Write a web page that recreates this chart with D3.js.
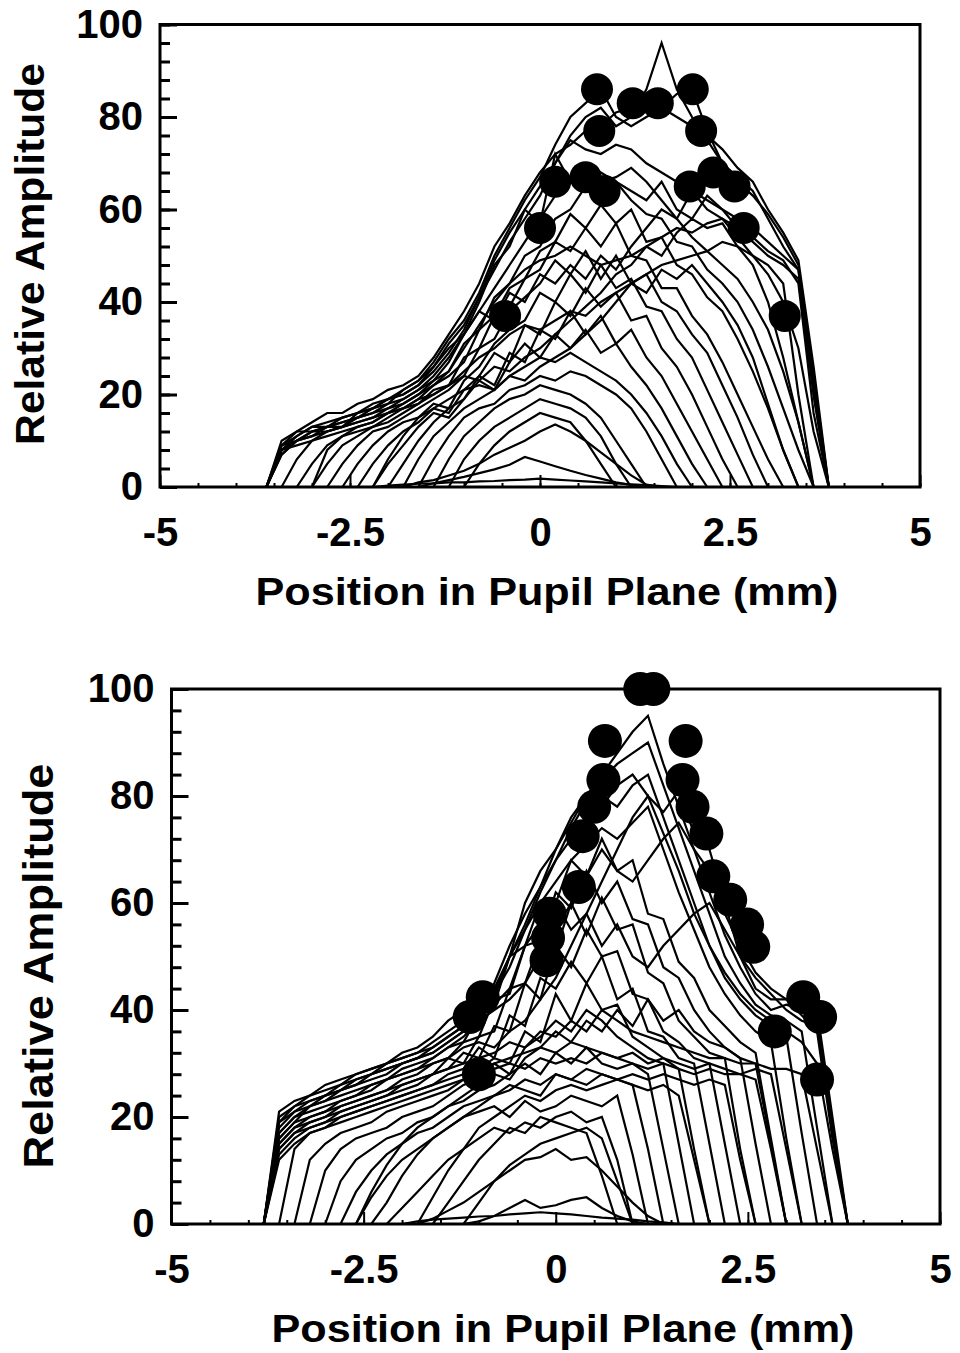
<!DOCTYPE html>
<html>
<head>
<meta charset="utf-8">
<script src="https://cdn.jsdelivr.net/npm/d3@7"></script>
<style>
  body { margin: 0; background: #fff; }
  svg { display: block; }
</style>
</head>
<body>
<div id="chart"></div>
<script>
// x positions (mm) of the sampled profiles
const topX = [-3.6,-3.4,-3.2,-3.0,-2.8,-2.6,-2.4,-2.2,-2.0,-1.8,-1.6,-1.4,-1.2,-1.0,-0.8,-0.6,-0.4,-0.2,0,0.2,0.4,0.6,0.8,1.0,1.2,1.4,1.6,1.8,2.0,2.2,2.4,2.6,2.8,3.0,3.2,3.4,3.6,3.8];
const bottomX = [-3.8,-3.6,-3.4,-3.2,-3.0,-2.8,-2.6,-2.4,-2.2,-2.0,-1.8,-1.6,-1.4,-1.2,-1.0,-0.8,-0.6,-0.4,-0.2,0,0.2,0.4,0.6,0.8,1.0,1.2,1.4,1.6,1.8,2.0,2.2,2.4,2.6,2.8,3.0,3.2,3.4,3.6,3.8];

// top panel profiles (relative amplitude at topX)
const topLines = [
  [0,0,0,0,0,0,0,0,0.3,0.5, 0.7,0.8,1,1,1.2,1.3,1.5,1.6,1.8,1.6, 1.4,1.2,1,0.8,0.6,0.4,0.2,0,0,0, 0,0,0,0,0,0,0,0],
  [0,0,0,0,0,0,0,0,0,0, 0,0.8,1.5,2.2,3,3.8,4.8,6.5,5.5,4.5, 3.5,2.6,1.8,1,0.4,0,0,0,0,0, 0,0,0,0,0,0,0,0],
  [0,0,0,0,0,0,0,0,0,0, 1,1.5,2.5,3.5,5,7,8.5,10,12,13.5, 12,10,7.5,5,2.5,0.5,0,0,0,0, 0,0,0,0,0,0,0,0],
  [0,0,0,0,0,0,0,0,0,0, 0,0,0,0,5,9,12,14,16,15, 14,10,5,0,0,0,0,0,0,0, 0,0,0,0,0,0,0,0],
  [0,0,0,0,0,0,0,0,0,0, 0,0,0,6,10,13,15,17,19,18, 17,15,11,5,0,0,0,0,0,0, 0,0,0,0,0,0,0,0],
  [0,0,0,0,0,0,0,0,0,0, 0,0,6,11,14,17,19,20,22,21, 20,18,15,10,5,0,0,0,0,0, 0,0,0,0,0,0,0,0],
  [0,0,0,0,0,0,0,0,0,0, 0,6,11,15,17,18,21,22,24,23, 25,24,22,20,17,12,6,0,0,0, 0,0,0,0,0,0,0,0],
  [0,0,0,0,0,0,0,0,0,0, 6,11,14,17,19,21,24,26,28,27, 29,27,25,23,20,16,11,5,0,0, 0,0,0,0,0,0,0,0],
  [0,0,0,0,0,0,0,0,0,5, 10,14,17,19,23,21,27,31,28,33, 30,34,29,31,26,22,17,11,5,0, 0,0,0,0,0,0,0,0],
  [0,0,0,0,0,0,0,0,5,9, 13,16,15,19,24,22,29,27,34,32, 38,33,37,31,34,28,24,18,12,6, 0,0,0,0,0,0,0,0],
  [0,0,0,0,0,0,0,5,9,12, 14,17,16,21,24,29,27,35,33,40, 37,43,39,42,36,37,30,26,20,13, 6,0,0,0,0,0,0,0],
  [0,0,0,0,0,0,5,9,12,14, 15,18,17,23,26,31,34,36,42,40, 46,42,48,43,45,39,38,32,28,21, 14,7,0,0,0,0,0,0],
  [0,0,0,0,0,5,9,12,13,15, 17,19,21,24,30,32,38,41,44,49, 46,51,45,50,44,46,40,38,33,29, 22,15,7,0,0,0,0,0],
  [0,0,0,0,5,9,11,13,14,16, 18,21,22,28,30,37,39,45,47,53, 51,56,52,57,50,49,43,43,37,33, 27,20,13,6,0,0,0,0],
  [0,0,0,5,9,11,12,13,15,17, 19,22,24,27,34,37,43,45,51,53, 59,56,61,57,60,53,54,48,46,41, 38,32,25,17,8,0,0,0],
  [0,0,6,10,11,12,13,14,16,18, 20,23,25,31,34,41,44,50,52,58, 60,65,61,66,62,59,58,53,52,47, 44,40,34,26,17,8,0,0],
  [0,8,10,12,12,13,15,16,18,19, 21,24,28,33,38,43,48,53,58,63, 66,68,66,67,69,66,62,58,54,51, 48,45,40,34,25,14,0,0],
  [0,9,11,13,13,14,15,17,19,20, 22,25,29,34,41,49,55,60,65,70, 75,73,72,74,73,70,68,66,64,62, 60,58,56,53,50,47,20,0],
  [0,9,12,12,13,13,16,17,18,21, 23,27,32,36,42,50,56,62,67,74, 80,83,86,80,78,80,82,85,86,77, 70,66,63,59,54,48,24,0],
  [0,8,11,13,14,15,16,18,19,20, 22,26,31,35,41,47,53,58,63,70, 76,80,82,78,80,86,96,86,80,75, 70,67,64,58,52,47,22,0],
  [0,10,12,14,16,16,18,19,21,22, 24,28,33,38,44,52,57,63,68,72, 74,77,78,81,82,81,82,80,78,76, 73,69,66,60,55,49,26,0],
  [0,9,10,11,13,14,15,16,17,19, 21,23,27,33,40,48,52,60,57,72, 66,70,68,66,64,62,66,60,58,63, 60,56,54,51,49,44,16,0],
  [0,7,10,11,12,13,14,15,17,18, 20,22,25,30,35,40,44,47,49,50, 52,50,48,49,50,52,54,56,55,57, 58,56,53,50,48,45,20,0],
  [0,8,9,10,12,13,14,15,16,17, 18,20,22,25,28,30,33,35,34,36, 38,37,40,42,44,46,48,49,50,51, 53,52,50,48,44,20,0,0],
  [0,0,0,0,8,11,13,14,16,17, 19,20,22,24,23,26,25,28,30,33, 36,39,42,46,48,52,50,55,58,56, 57,52,48,40,28,14,0,0],
  [0,0,0,0,0,0,0,0,6,11, 15,17,19,21,22,21,24,23,26,28, 30,33,36,40,44,42,47,45,48,44, 40,35,28,18,8,0,0,0],
  [0,7,10,12,13,15,16,17,19,21, 23,26,30,33,38,36,42,40,46,44, 48,45,50,47,52,56,60,58,64,60, 58,54,50,46,40,30,12,0]
];

// bottom panel profiles (relative amplitude at bottomX)
const bottomLines = [
  [0,0,0,0,0,0,0,0,0,0, 0.5,0.8,1,1.2,1.4,1.5,1.8,2,2.2,2, 1.8,1.5,1.2,1,0.8,0.5,0.3,0,0,0, 0,0,0,0,0,0,0,0,0],
  [0,0,0,0,0,0,0,0,0,0, 0,0,0,0,0.5,1.5,3,4.5,3,3.5, 4.5,5,3,1.5,0.5,0,0,0,0,0, 0,0,0,0,0,0,0,0,0],
  [0,0,0,0,0,0,0,0,0,0, 0,1,2.5,4,6,8,10,12,12.5,14, 12,12.5,10,7,4,1.5,0,0,0,0, 0,0,0,0,0,0,0,0,0],
  [0,0,0,0,0,0,0,0,0,0, 0,0,0,0,4,8,11,13,15,16, 17,18,16,8,0,0,0,0,0,0, 0,0,0,0,0,0,0,0,0],
  [0,0,0,0,0,0,0,0,0,0, 0,0,4,8,12,15,18,17,20,19, 18,17,9,0,0,0,0,0,0,0, 0,0,0,0,0,0,0,0,0],
  [0,0,0,0,0,0,0,0,0,3, 6,9,12,14,16,18,17,19,18,20, 21,19,20,12,0,0,0,0,0,0, 0,0,0,0,0,0,0,0,0],
  [0,0,0,0,0,0,0,5,9,12, 14,16,18,20,21,22,20,23,21,22, 24,23,22,24,13,0,0,0,0,0, 0,0,0,0,0,0,0,0,0],
  [0,0,0,0,0,0,6,10,13,15, 17,18,20,22,23,24,26,25,24,28, 27,26,28,27,26,14,0,0,0,0, 0,0,0,0,0,0,0,0,0],
  [0,0,0,0,0,8,12,14,16,17, 19,20,22,23,25,26,28,30,28,32, 30,33,30,29,30,28,14,0,0,0, 0,0,0,0,0,0,0,0,0],
  [0,0,0,0,10,14,16,17,18,20, 21,22,24,26,27,30,28,33,35,38, 36,40,38,35,33,31,30,15,0,0, 0,0,0,0,0,0,0,0,0],
  [0,0,0,12,15,17,18,19,21,22, 23,24,25,27,29,31,30,36,34,43, 38,45,40,41,35,33,31,29,14,0, 0,0,0,0,0,0,0,0,0],
  [0,0,14,17,18,20,21,22,23,24, 25,26,28,29,33,31,39,37,46,44, 49,45,50,42,44,36,35,31,30,15, 0,0,0,0,0,0,0,0,0],
  [0,15,18,19,20,21,22,23,24,25, 26,28,29,32,31,37,36,45,42,52, 48,55,50,51,43,42,36,34,31,30, 15,0,0,0,0,0,0,0,0],
  [0,13,16,18,19,21,22,23,24,26, 27,28,31,30,35,36,44,45,53,51, 60,54,61,55,56,47,45,38,35,32, 31,14,0,0,0,0,0,0,0],
  [0,16,19,20,21,22,23,24,25,27, 28,30,31,34,35,42,43,52,53,62, 59,66,60,64,57,56,48,46,40,36, 33,31,15,0,0,0,0,0,0],
  [0,17,20,21,22,23,24,26,27,28, 29,31,33,34,39,41,50,52,60,60, 68,65,72,66,68,58,57,49,46,40, 37,34,32,16,0,0,0,0,0],
  [0,18,21,22,23,24,25,26,27,29, 30,31,33,35,38,43,50,55,60,64, 68,71,74,72,75,78,70,62,55,48, 43,39,36,34,16,0,0,0,0],
  [0,19,22,23,24,25,26,27,28,30, 31,32,34,36,39,45,52,58,63,68, 72,76,80,78,82,84,76,68,60,52, 46,42,39,37,35,17,0,0,0],
  [0,20,22,24,25,26,27,28,30,31, 32,33,35,37,40,43,48,55,62,68, 74,79,83,86,88,90,82,74,66,58, 50,45,41,39,38,36,18,0,0],
  [0,21,23,24,26,27,28,29,30,31, 32,34,36,38,41,44,50,56,63,70, 76,80,84,88,92,95,86,78,70,62, 54,48,43,40,41,40,38,18,0],
  [0,19,21,23,24,26,28,29,30,32, 33,35,38,40,42,43,50,60,66,70, 75,80,78,82,84,80,77,81,73,70, 60,50,44,42,42,39,36,16,0],
  [0,17,20,22,23,25,26,28,29,30, 31,32,34,36,38,40,42,45,50,55, 60,65,70,66,64,68,72,75,70,66, 58,52,47,44,42,42,40,20,0],
  [0,16,19,22,24,25,27,28,29,30, 31,33,35,37,39,41,44,52,56,60, 55,58,52,56,50,48,52,55,58,60, 55,50,46,43,40,38,37,17,0],
  [0,14,17,19,20,22,23,24,25,26, 27,28,29,30,31,32,34,33,36,35, 38,36,40,38,36,35,34,33,32,31, 31,30,30,29,29,28,14,0,0],
  [0,12,15,17,18,19,20,21,22,23, 24,25,26,27,28,29,30,29,31,30, 31,30,32,31,30,29,30,29,28,29, 28,28,27,14,0,0,0,0,0],
  [0,0,0,0,0,0,0,0,4,9, 13,16,18,20,22,24,25,27,26,28, 27,29,28,27,28,27,28,27,26,27, 26,12,0,0,0,0,0,0,0],
  [0,0,0,0,0,0,0,0,0,0, 0,5,10,14,18,20,22,24,23,25, 26,25,26,27,26,25,26,24,12,0, 0,0,0,0,0,0,0,0,0],
  [0,15,18,20,21,23,24,25,27,28, 29,30,31,33,34,33,36,38,42,46, 52,58,64,70,76,80,73,66,58,52, 47,43,40,38,36,34,30,14,0],
  [0,0,0,0,0,0,0,6,11,15, 18,20,22,24,26,28,27,31,33,36, 34,38,36,40,37,42,38,40,36,34, 33,31,30,15,0,0,0,0,0],
  [0,14,17,18,19,20,21,22,23,24, 25,26,27,28,29,30,31,32,33,32, 34,33,32,31,32,30,31,30,29,30, 29,28,29,28,14,0,0,0,0]
];

// peak markers [x mm, amplitude]
const topDots = [[0.75,86],[0.78,77],[1.22,83],[1.55,83],[2.01,86],[2.12,77],[0.2,66],[0.6,67],[0.85,64],[1.97,65],[2.28,68],[2.56,65],[0,56],[2.68,56],[-0.46,37],[3.22,37]];
const bottomDots = [[1.1,100],[1.27,100],[0.64,90.3],[1.69,90.3],[0.62,83],[1.65,83],[0.5,78],[1.78,78],[0.35,72.5],[1.96,73],[0.3,63],[2.05,65],[-0.08,58],[2.27,60.6],[-0.1,53.5],[2.49,56],[-0.12,49.3],[2.57,51.8],[-0.95,42.4],[-1.12,38.7],[3.22,42.4],[3.44,38.7],[2.85,36],[3.4,27],[-1.0,28]];

const xMajorTicks = [-5, -2.5, 0, 2.5, 5];
const yMajorTicks = [0, 20, 40, 60, 80, 100];

const FONT = "'Liberation Sans', Arial, Helvetica, sans-serif";

const svg = d3.select("#chart").append("svg")
    .attr("width", 960)
    .attr("height", 1353)
    .style("background", "#fff");

function drawPanel(p) {
    const x = d3.scaleLinear().domain([-5, 5]).range([p.left, p.right]);
    const y = d3.scaleLinear().domain([0, 100]).range([p.bottom, p.top]);
    const g = svg.append("g");

    // profiles
    const line = d3.line()
        .x((d, i) => x(p.grid[i]))
        .y(d => y(d));
    g.append("g")
        .selectAll("path")
        .data(p.lines)
        .join("path")
        .attr("d", line)
        .attr("fill", "none")
        .attr("stroke", "#000")
        .attr("stroke-width", 2.2);

    // peak markers
    g.append("g")
        .selectAll("circle")
        .data(p.dots)
        .join("circle")
        .attr("cx", d => x(d[0]))
        .attr("cy", d => y(d[1]))
        .attr("r", p.r)
        .attr("fill", "#000");

    // y ticks, minor then major
    g.append("g")
        .attr("transform", `translate(${p.left},0)`)
        .call(d3.axisLeft(y).tickValues(d3.range(0, 101, 4)).tickSize(-10).tickFormat(""))
        .call(a => a.select(".domain").remove())
        .call(a => a.selectAll("line").attr("stroke-width", 3));

    g.append("g")
        .attr("transform", `translate(${p.left},0)`)
        .call(d3.axisLeft(y).tickValues(yMajorTicks).tickSize(-17).tickPadding(17).tickFormat(d => String(d)))
        .call(a => a.select(".domain").remove())
        .call(a => a.selectAll("line").attr("stroke-width", 3))
        .call(a => a.selectAll("text")
            .attr("font-family", FONT)
            .attr("font-weight", "bold")
            .attr("font-size", 40)
            .attr("fill", "#000"));

    // x ticks
    g.append("g")
        .attr("transform", `translate(0,${p.bottom})`)
        .call(d3.axisBottom(x).tickValues(d3.range(-5, 5.01, 0.5)).tickSize(-4).tickFormat(""))
        .call(a => a.select(".domain").remove())
        .call(a => a.selectAll("line").attr("stroke-width", 2));

    g.append("g")
        .attr("transform", `translate(0,${p.bottom})`)
        .call(d3.axisBottom(x).tickValues(xMajorTicks).tickSize(-12).tickPadding(31).tickFormat(d => String(d)))
        .call(a => a.select(".domain").remove())
        .call(a => a.selectAll("line").attr("stroke-width", 2))
        .call(a => a.selectAll("text")
            .attr("font-family", FONT)
            .attr("font-weight", "bold")
            .attr("font-size", 40)
            .attr("fill", "#000"));

    // frame
    g.append("rect")
        .attr("x", p.left)
        .attr("y", p.top)
        .attr("width", p.right - p.left)
        .attr("height", p.bottom - p.top)
        .attr("fill", "none")
        .attr("stroke", "#000")
        .attr("stroke-width", 3);

    // titles
    g.append("text")
        .attr("transform", `translate(${p.yTitleX},${p.yTitleY}) rotate(-90)`)
        .attr("text-anchor", "middle")
        .attr("font-family", FONT)
        .attr("font-weight", "bold")
        .attr("font-size", p.yTitleSize)
        .attr("textLength", p.yTitleLen)
        .attr("lengthAdjust", "spacingAndGlyphs")
        .text("Relative Amplitude");

    g.append("text")
        .attr("x", p.xTitleX)
        .attr("y", p.xTitleY)
        .attr("text-anchor", "middle")
        .attr("font-family", FONT)
        .attr("font-weight", "bold")
        .attr("font-size", 39)
        .attr("textLength", 583)
        .attr("lengthAdjust", "spacingAndGlyphs")
        .text("Position in Pupil Plane (mm)");
}

drawPanel({
    left: 160, right: 920, top: 24.5, bottom: 487,
    grid: topX, lines: topLines, dots: topDots, r: 16,
    yTitleX: 44, yTitleY: 254, yTitleLen: 382, yTitleSize: 40,
    xTitleX: 547, xTitleY: 605
});

drawPanel({
    left: 171.5, right: 940, top: 689, bottom: 1224,
    grid: bottomX, lines: bottomLines, dots: bottomDots, r: 17,
    yTitleX: 53, yTitleY: 966, yTitleLen: 405, yTitleSize: 42,
    xTitleX: 563, xTitleY: 1342
});
</script>
</body>
</html>
